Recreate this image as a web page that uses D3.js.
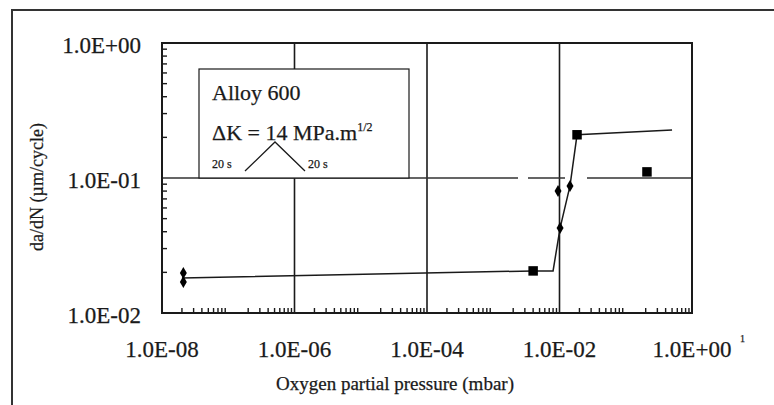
<!DOCTYPE html>
<html><head><meta charset="utf-8">
<script src="https://cdn.jsdelivr.net/npm/d3@7"></script>
<style>body{margin:0;background:#fff}svg{display:block}text{font-family:"Liberation Serif","Times New Roman",serif;fill:#1a1a1a;stroke:#1a1a1a;stroke-width:0.25}</style>
</head><body><svg id="c" width="774" height="405"></svg>
<script>
// ---- data ----
const xTicks = [1e-8, 1e-6, 1e-4, 1e-2, 1];
const xTickLabels = ["1.0E-08", "1.0E-06", "1.0E-04", "1.0E-02", "1.0E+00"];
const yTicks = [0.01, 0.1, 1];
const yTickLabels = ["1.0E-02", "1.0E-01", "1.0E+00"];
// fitted curve
const fitX = [2e-8, 4e-3, 8e-3, 1.02e-2, 1.44e-2, 1.84e-2, 0.5];
const fitY = [0.0182, 0.0205, 0.0205, 0.0426, 0.0873, 0.209, 0.227];
// square markers
const sqX = [4e-3, 1.84e-2, 0.209];
const sqY = [0.0205, 0.209, 0.111];
// diamond markers
const diX = [2.1e-8, 2.1e-8, 1.02e-2, 9.5e-3, 1.44e-2];
const diY = [0.0198, 0.0170, 0.0426, 0.080, 0.0873];

const svg = d3.select("#c");
const L = 162, R = 692, T = 43, B = 313;
const x = d3.scaleLog().domain([1e-8, 1]).range([L, R]);
const y = d3.scaleLog().domain([0.01, 1]).range([B, T]);
const ink = "#1a1a1a";

// outer frame
svg.append("path").attr("d", "M12,405V10H774").attr("fill", "none").attr("stroke", "#333").attr("stroke-width", 2);

// minor ticks (inside)
const minorX = [];
for (let e = -8; e < 0; e++) for (let m = 2; m <= 9; m++) minorX.push(m * Math.pow(10, e));
const minorY = [];
for (let e = -2; e < 0; e++) for (let m = 2; m <= 9; m++) minorY.push(m * Math.pow(10, e));
svg.append("g").selectAll("line").data(minorX).join("line")
  .attr("x1", d => x(d)).attr("x2", d => x(d)).attr("y1", B).attr("y2", B - 5)
  .attr("stroke", ink).attr("stroke-width", 1.4);
svg.append("g").selectAll("line").data(minorY).join("line")
  .attr("x1", L).attr("x2", L + 5).attr("y1", d => y(d)).attr("y2", d => y(d))
  .attr("stroke", ink).attr("stroke-width", 1.4);

// vertical gridlines
svg.append("g").selectAll("line").data(xTicks.slice(1, -1)).join("line")
  .attr("x1", d => x(d)).attr("x2", d => x(d)).attr("y1", T).attr("y2", B)
  .attr("stroke", ink).attr("stroke-width", 1.6);

// horizontal gridline (with scan gaps)
svg.append("line").attr("x1", L).attr("x2", R).attr("y1", y(0.1)).attr("y2", y(0.1))
  .attr("stroke", "#333").attr("stroke-width", 1.6)
  .attr("stroke-dasharray", "356,10,37,22,200");

// plot frame
svg.append("rect").attr("x", L).attr("y", T).attr("width", R - L).attr("height", B - T)
  .attr("fill", "none").attr("stroke", ink).attr("stroke-width", 2);

// legend box
const lg = svg.append("g");
lg.append("rect").attr("x", 199).attr("y", 69).attr("width", 210).attr("height", y(0.1) - 69)
  .attr("fill", "#fff").attr("stroke", ink).attr("stroke-width", 1.2);
lg.append("text").attr("x", 212).attr("y", 100).attr("font-size", 22).text("Alloy 600");
const dk = lg.append("text").attr("x", 212).attr("y", 140).attr("font-size", 22);
dk.append("tspan").text("\u0394K = 14 MPa.m");
dk.append("tspan").attr("font-size", 12).attr("dy", -9).text("1/2");
lg.append("text").attr("x", 212).attr("y", 168).attr("font-size", 12).text("20 s");
lg.append("text").attr("x", 308).attr("y", 168).attr("font-size", 12).text("20 s");
lg.append("path").attr("d", "M245,171L275,142L305,171").attr("fill", "none").attr("stroke", ink).attr("stroke-width", 1.3);

// fit line
const pts = fitX.map((v, i) => [v, fitY[i]]);
svg.append("path").datum(pts)
  .attr("d", d3.line().x(d => x(d[0])).y(d => y(d[1])))
  .attr("fill", "none").attr("stroke", ink).attr("stroke-width", 1.5);

// markers
svg.append("g").selectAll("path").data(sqX.map((v, i) => [v, sqY[i]])).join("path")
  .attr("transform", d => `translate(${x(d[0])},${y(d[1])})`)
  .attr("d", d3.symbol(d3.symbolSquare, 90)).attr("fill", "#000");
svg.append("g").selectAll("path").data(diX.map((v, i) => [v, diY[i]])).join("path")
  .attr("transform", d => `translate(${x(d[0])},${y(d[1])})`)
  .attr("d", d3.symbol(d3.symbolDiamond, 42)).attr("fill", "#000");

// tick labels
svg.append("g").selectAll("text").data(xTicks).join("text")
  .attr("x", d => x(d)).attr("y", 357).attr("text-anchor", "middle").attr("font-size", 23)
  .text((d, i) => xTickLabels[i]);
svg.append("g").selectAll("text").data(yTicks).join("text")
  .attr("x", 141).attr("y", d => y(d) + 10).attr("text-anchor", "end").attr("font-size", 23)
  .text((d, i) => yTickLabels[i]);
svg.append("text").attr("x", 740).attr("y", 342).attr("font-size", 10).text("1");

// axis titles
svg.append("text").attr("transform", "translate(43,187) rotate(-90)").attr("text-anchor", "middle")
  .attr("font-size", 18).text("da/dN (\u00b5m/cycle)");
svg.append("text").attr("x", 395).attr("y", 390).attr("text-anchor", "middle")
  .attr("font-size", 19).text("Oxygen partial pressure (mbar)");
</script></body></html>
